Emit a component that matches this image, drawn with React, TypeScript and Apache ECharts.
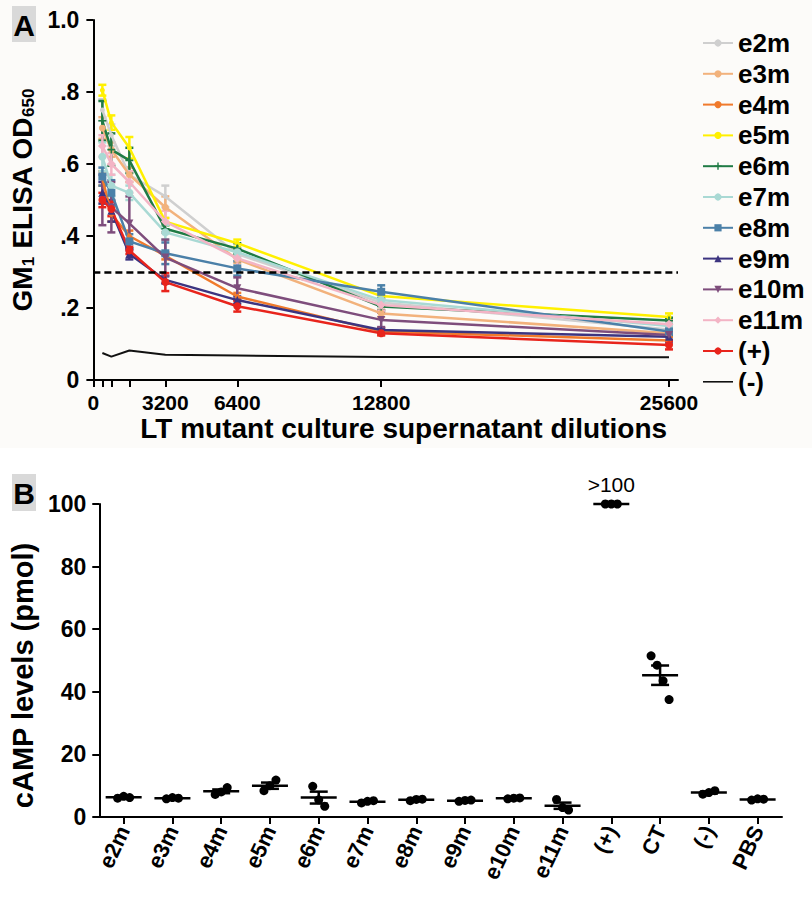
import React, { useEffect, useRef } from 'react';
import * as echarts from 'echarts';

const FONT = 'Liberation Sans, Arial, Helvetica, sans-serif';

// ---------- Panel A data ----------
const dilutions = [400, 800, 1600, 3200, 6400, 12800, 25600];
const xTickValues = [0, 400, 800, 1600, 3200, 6400, 12800, 25600];
const xLabelValues = [0, 3200, 6400, 12800, 25600];
const yLabelsA = ['0', '.2', '.4', '.6', '.8', '1.0'];

const e2m = [0.75, 0.68, 0.57, 0.51, 0.35, 0.215, 0.14];
const e2mErr = [0.03, 0.03, 0.02, 0.03, 0.01, 0.01, 0.01];
const e3m = [0.70, 0.64, 0.57, 0.48, 0.335, 0.185, 0.13];
const e3mErr = [0.03, 0.02, 0.02, 0.03, 0.01, 0.01, 0.01];
const e4m = [0.56, 0.46, 0.40, 0.345, 0.232, 0.135, 0.11];
const e4mErr = [0.02, 0.02, 0.015, 0.01, 0.01, 0.01, 0.01];
const e5m = [0.805, 0.715, 0.645, 0.44, 0.38, 0.233, 0.175];
const e5mErr = [0.015, 0.02, 0.03, 0.01, 0.01, 0.005, 0.01];
const e6m = [0.72, 0.64, 0.61, 0.42, 0.365, 0.204, 0.165];
const e6mErr = [0.055, 0.045, 0.035, 0.01, 0.015, 0.01, 0.008];
const e7m = [0.62, 0.54, 0.52, 0.41, 0.355, 0.222, 0.15];
const e7mErr = [0.04, 0.03, 0.02, 0.02, 0.01, 0.01, 0.01];
const e8m = [0.565, 0.52, 0.385, 0.352, 0.31, 0.245, 0.135];
const e8mErr = [0.025, 0.035, 0.02, 0.03, 0.02, 0.018, 0.01];
const e9m = [0.52, 0.47, 0.35, 0.278, 0.222, 0.139, 0.12];
const e9mErr = [0.03, 0.03, 0.015, 0.01, 0.01, 0.005, 0.008];
const e10m = [0.50, 0.48, 0.435, 0.34, 0.255, 0.167, 0.125];
const e10mErr = [0.07, 0.07, 0.075, 0.05, 0.03, 0.02, 0.02];
const e11m = [0.65, 0.60, 0.55, 0.44, 0.338, 0.208, 0.155];
const e11mErr = [0.03, 0.03, 0.03, 0.03, 0.025, 0.015, 0.01];
const posCtrl = [0.50, 0.475, 0.36, 0.272, 0.205, 0.13, 0.097];
const posCtrlErr = [0.02, 0.02, 0.01, 0.025, 0.015, 0.006, 0.012];
const negCtrl = [0.075, 0.065, 0.082, 0.07, 0.068, 0.064, 0.063];
const threshold = 0.3;

// ---------- Panel B data ----------
const categoriesB = ['e2m', 'e3m', 'e4m', 'e5m', 'e6m', 'e7m', 'e8m', 'e9m', 'e10m', 'e11m', '(+)', 'CT', '(-)', 'PBS'];
const replicatesB = [
  [6.0, 6.6, 6.2],
  [5.8, 6.2, 6.0],
  [7.2, 8.0, 9.4],
  [8.4, 10.0, 11.8],
  [9.8, 5.5, 3.4],
  [4.5, 5.0, 5.2],
  [5.2, 5.6, 5.7],
  [5.0, 5.3, 5.4],
  [5.8, 6.0, 6.1],
  [5.6, 3.0, 2.2],
  [100, 100, 100],
  [51.5, 48.5, 43.5, 37.5],
  [7.3, 7.8, 8.4],
  [5.4, 5.8, 5.7],
];
const meansB = [6.3, 6.0, 8.2, 10.0, 6.2, 4.9, 5.5, 5.2, 6.0, 3.6, 100, 45.3, 7.8, 5.6];
const semsB = [0.2, 0.1, 0.6, 1.0, 1.9, 0.2, 0.15, 0.1, 0.1, 1.0, 0, 3.1, 0.3, 0.1];
const overflowLabel = '>100';

type Spec = { name: string; vals: number[]; err: number[]; color: string; symbol: string; size: number; rotate?: number };
const PLUS = 'path://M0,4H10V6H0Z M4,0H6V10H4Z';
const specs: Spec[] = [
  { name: 'e2m', vals: e2m, err: e2mErr, color: '#cfcfcf', symbol: 'circle', size: 5 },
  { name: 'e3m', vals: e3m, err: e3mErr, color: '#f2b27c', symbol: 'circle', size: 7 },
  { name: 'e4m', vals: e4m, err: e4mErr, color: '#f07a2c', symbol: 'circle', size: 5 },
  { name: 'e5m', vals: e5m, err: e5mErr, color: '#fff000', symbol: 'circle', size: 5 },
  { name: 'e6m', vals: e6m, err: e6mErr, color: '#1f7b45', symbol: PLUS, size: 8 },
  { name: 'e7m', vals: e7m, err: e7mErr, color: '#a9d9d4', symbol: 'circle', size: 8 },
  { name: 'e8m', vals: e8m, err: e8mErr, color: '#4b80a8', symbol: 'rect', size: 8 },
  { name: 'e9m', vals: e9m, err: e9mErr, color: '#3c3480', symbol: 'triangle', size: 8 },
  { name: 'e10m', vals: e10m, err: e10mErr, color: '#7e4d7c', symbol: 'triangle', size: 8, rotate: 180 },
  { name: 'e11m', vals: e11m, err: e11mErr, color: '#f3b4c5', symbol: 'diamond', size: 9 },
  { name: '(+)', vals: posCtrl, err: posCtrlErr, color: '#e8241c', symbol: 'circle', size: 8 },
];

function errRender(color: string) {
  return (params: any, api: any) => {
    const x = api.value(0), y = api.value(1), e = api.value(2);
    const p1 = api.coord([x, y + e]);
    const p2 = api.coord([x, y - e]);
    const w = 4;
    const st = { stroke: color, lineWidth: 2.5 };
    return {
      type: 'group',
      children: [
        { type: 'line', shape: { x1: p1[0], y1: p1[1], x2: p2[0], y2: p2[1] }, style: st },
        { type: 'line', shape: { x1: p1[0] - w, y1: p1[1], x2: p1[0] + w, y2: p1[1] }, style: st },
        { type: 'line', shape: { x1: p2[0] - w, y1: p2[1], x2: p2[0] + w, y2: p2[1] }, style: st },
      ],
    };
  };
}

function buildOption() {
  const series: any[] = [];
  specs.forEach((s) => {
    series.push({
      name: s.name + ' SEM',
      type: 'custom',
      xAxisIndex: 0,
      yAxisIndex: 0,
      renderItem: errRender(s.color),
      encode: { x: 0, y: 1 },
      data: dilutions.map((d, i) => [d, s.vals[i], s.err[i]]),
      silent: true,
      z: 2,
    });
    series.push({
      name: s.name,
      type: 'line',
      xAxisIndex: 0,
      yAxisIndex: 0,
      data: dilutions.map((d, i) => [d, s.vals[i]]),
      symbol: s.symbol,
      symbolSize: s.size,
      symbolRotate: s.rotate || 0,
      showSymbol: true,
      itemStyle: { color: s.color },
      lineStyle: { color: s.color, width: 2.5 },
      z: 3,
    });
  });
  series.push({
    name: '(-)',
    type: 'line',
    xAxisIndex: 0,
    yAxisIndex: 0,
    data: dilutions.map((d, i) => [d, negCtrl[i]]),
    symbol: 'none',
    itemStyle: { color: '#111' },
    lineStyle: { color: '#111', width: 2 },
    z: 3,
    markLine: {
      silent: true,
      symbol: 'none',
      label: { show: false },
      lineStyle: { color: '#000', type: [7, 4], width: 2.5 },
      data: [{ yAxis: threshold }],
    },
  });

  // Panel B
  const pts: number[][] = [];
  replicatesB.forEach((arr, i) => arr.forEach((v, j) => pts.push([i, v, j, arr.length])));
  series.push({
    name: 'replicates',
    type: 'custom',
    xAxisIndex: 1,
    yAxisIndex: 1,
    encode: { x: 0, y: 1 },
    data: pts,
    renderItem: (params: any, api: any) => {
      const c = api.coord([api.value(0), api.value(1)]);
      const off = (api.value(2) - (api.value(3) - 1) / 2) * 6;
      return { type: 'circle', shape: { cx: c[0] + off, cy: c[1], r: 4.5 }, style: { fill: '#000' } };
    },
    z: 3,
  });
  series.push({
    name: 'mean',
    type: 'custom',
    xAxisIndex: 1,
    yAxisIndex: 1,
    encode: { x: 0, y: 1 },
    data: meansB.map((m, i) => [i, m, semsB[i]]),
    renderItem: (params: any, api: any) => {
      const i = api.value(0), m = api.value(1), e = api.value(2);
      const c = api.coord([i, m]);
      const st = { stroke: '#000', lineWidth: 2.5 };
      const children: any[] = [
        { type: 'line', shape: { x1: c[0] - 18, y1: c[1], x2: c[0] + 18, y2: c[1] }, style: st },
      ];
      if (e > 0) {
        const t = api.coord([i, m + e]);
        const b = api.coord([i, m - e]);
        children.push({ type: 'line', shape: { x1: t[0], y1: t[1], x2: b[0], y2: b[1] }, style: st });
        children.push({ type: 'line', shape: { x1: t[0] - 9, y1: t[1], x2: t[0] + 9, y2: t[1] }, style: st });
        children.push({ type: 'line', shape: { x1: b[0] - 9, y1: b[1], x2: b[0] + 9, y2: b[1] }, style: st });
      }
      return { type: 'group', children };
    },
    z: 4,
  });
  series.push({
    name: 'overflow',
    type: 'scatter',
    xAxisIndex: 1,
    yAxisIndex: 1,
    data: [[categoriesB[10], meansB[10]]],
    symbolSize: 0,
    silent: true,
    itemStyle: { opacity: 1, color: '#000' },
    label: {
      show: true,
      position: 'top',
      distance: 9,
      formatter: overflowLabel,
      fontSize: 21,
      color: '#000',
      opacity: 1,
      fontFamily: FONT,
    },
  });

  const axisLine = { show: true, lineStyle: { color: '#000', width: 2 } };
  const axisTick = { show: true, length: 7, lineStyle: { color: '#000', width: 2 } };
  const boldLabel = { color: '#000', fontWeight: 'bold', fontFamily: FONT };

  return {
    animation: false,
    backgroundColor: '#ffffff',
    graphic: [
      { type: 'rect', shape: { x: 0, y: 0, width: 812, height: 448 }, style: { fill: '#fcfbf9' }, z: -10, silent: true },
      { type: 'rect', shape: { x: 12, y: 6, width: 24, height: 36 }, style: { fill: '#d9d9d9' }, z: 10 },
      { type: 'text', x: 24, y: 25, style: { text: 'A', fontSize: 30, fontWeight: 'bold', fontFamily: FONT, fill: '#000', align: 'center', verticalAlign: 'middle' }, z: 11 },
      { type: 'rect', shape: { x: 12, y: 474, width: 24, height: 37 }, style: { fill: '#d9d9d9' }, z: 10 },
      { type: 'text', x: 24, y: 493, style: { text: 'B', fontSize: 30, fontWeight: 'bold', fontFamily: FONT, fill: '#000', align: 'center', verticalAlign: 'middle' }, z: 11 },
    ],
    legend: {
      data: [...specs.map((s) => s.name), { name: '(-)', icon: 'path://M0,4.2H30V5.8H0Z' }],
      orient: 'vertical',
      left: 697,
      top: 25,
      itemWidth: 30,
      itemHeight: 9,
      itemGap: 4.8,
      textStyle: { fontSize: 26, fontWeight: 'bold', color: '#000', fontFamily: FONT },
    },
    grid: [
      { left: 87, top: 20, width: 591, height: 360 },
      { left: 86, top: 504, width: 696, height: 313 },
    ],
    xAxis: [
      {
        gridIndex: 0,
        type: 'value',
        min: 0,
        max: 26000,
        axisLine,
        axisTick: { ...axisTick, customValues: xTickValues },
        axisLabel: { ...boldLabel, fontSize: 21, margin: 12, customValues: xLabelValues, formatter: (v: number) => String(v) },
        splitLine: { show: false },
        name: 'LT mutant culture supernatant dilutions',
        nameLocation: 'middle',
        nameGap: 34,
        nameTextStyle: { ...boldLabel, fontSize: 28, padding: [0, 0, 0, 36] },
      },
      {
        gridIndex: 1,
        type: 'category',
        data: categoriesB,
        axisLine,
        axisTick: { ...axisTick, alignWithLabel: true },
        axisLabel: { ...boldLabel, fontSize: 22, rotate: 65, margin: 10, interval: 0 },
        splitLine: { show: false },
      },
    ],
    yAxis: [
      {
        gridIndex: 0,
        type: 'value',
        min: 0,
        max: 1,
        interval: 0.2,
        axisLine,
        axisTick,
        axisLabel: { ...boldLabel, fontSize: 23, margin: 14, formatter: (v: number) => yLabelsA[Math.round(v / 0.2)] },
        splitLine: { show: false },
        name: 'GM{s|1} ELISA OD{s|650}',
        nameLocation: 'middle',
        nameGap: 47,
        nameTextStyle: {
          ...boldLabel,
          fontSize: 28,
          rich: { s: { fontSize: 17, fontWeight: 'bold', fontFamily: FONT, color: '#000', verticalAlign: 'bottom', padding: [12, 0, 0, 0] } },
        },
      },
      {
        gridIndex: 1,
        type: 'value',
        min: 0,
        max: 100,
        interval: 20,
        axisLine,
        axisTick,
        axisLabel: { ...boldLabel, fontSize: 23, margin: 13 },
        splitLine: { show: false },
        name: 'cAMP levels (pmol)',
        nameLocation: 'middle',
        nameGap: 46,
        nameTextStyle: { ...boldLabel, fontSize: 29, padding: [0, 30, 0, 0] },
      },
    ],
    series,
  };
}

export default function App() {
  const ref = useRef<HTMLDivElement>(null);
  useEffect(() => {
    document.body.style.margin = '0';
    const chart = echarts.init(ref.current!, null, { renderer: 'svg' });
    chart.setOption(buildOption() as any);
    return () => chart.dispose();
  }, []);
  return <div ref={ref} style={{ width: 812, height: 899 }} />;
}
